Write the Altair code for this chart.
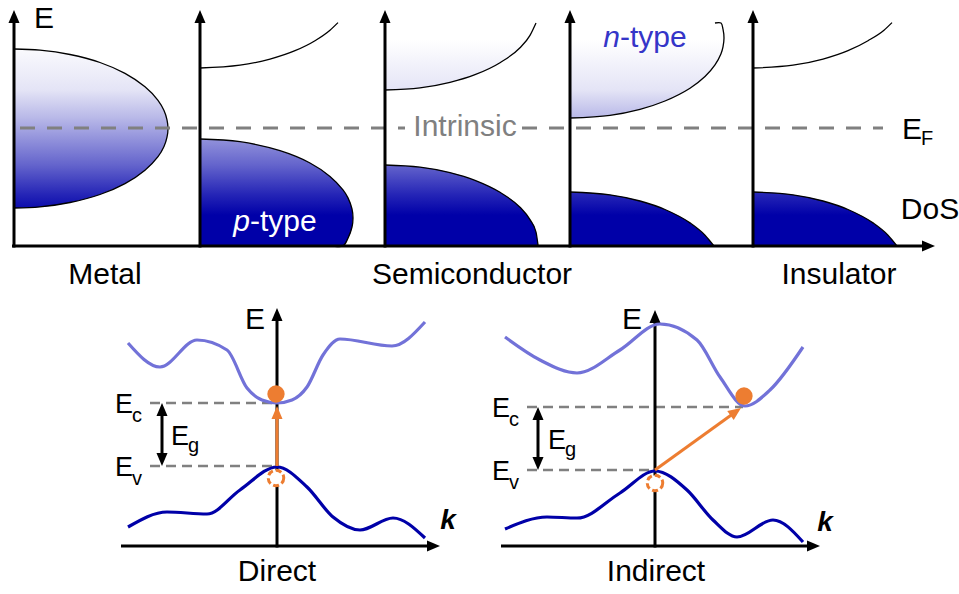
import math

import altair as alt
import pandas as pd

# ---------------------------------------------------------------
# Density-of-states sketches (top row) and band diagrams (bottom)
# All geometry lives on a 959 x 594 canvas-like coordinate system.
# ---------------------------------------------------------------

W, H = 959, 594

# ---- top row: energy axes of the five DoS panels ----
PANEL_AXES_X = [14, 200, 385, 570, 753]
DOS_BASE_Y = 246
DOS_AXIS_TIP_Y = 10
DOS_AXIS_END_X = 935
FERMI_Y = 128

# metal: half-ellipse band straddling E_F
METAL_X = [14, 40, 70, 100, 125, 145, 158, 164, 167, 168]
METAL_TOP = [49, 50.1, 54.5, 62.5, 73.4, 86.8, 100.3, 110.5, 119.8, 128.5]
METAL_BOT = [208, 206.9, 202.5, 194.5, 183.6, 170.2, 156.7, 146.5, 137.2, 128.5]

# p-type: empty conduction band edge, valence band
PTYPE_CB_X = [200, 240, 270, 295, 315, 330, 338]
PTYPE_CB_Y = [68, 65.2, 59.1, 50.7, 40.7, 30.2, 22.6]
PTYPE_VB_X = [200, 240, 280, 310, 330, 343, 348, 352, 353]
PTYPE_VB_TOP = [139, 141.7, 150.7, 163, 176.4, 189.9, 197.9, 209, 218]
PTYPE_VB_BOT = [246, 246, 246, 246, 246, 246, 238.1, 227, 218]

# intrinsic semiconductor
INTR_CB_X = [385, 420, 450, 475, 500, 520, 530, 536]
INTR_CB_Y = [90, 87.9, 82.4, 74.7, 62.7, 47.7, 35.4, 23]
INTR_VB_X = [385, 420, 450, 475, 500, 520, 530, 536, 538]
INTR_VB_TOP = [165, 167.1, 172.6, 180.3, 192.3, 207.3, 219.6, 232.1, 245]

# n-type
NTYPE_CB_X = [570, 610, 640, 665, 690, 705, 715, 721, 723, 724]
NTYPE_CB_LOW = [118, 115.3, 109.3, 101, 88.2, 76.5, 64.9, 53.7, 46.8, 38]
NTYPE_CB_UP = [23, 23, 23, 23, 23, 23, 23, 23, 29.2, 38]
NTYPE_VB_X = [570, 610, 640, 665, 690, 705, 714]
NTYPE_VB_TOP = [192, 194.8, 201, 209.5, 222.9, 235.2, 246]

# insulator
INS_CB_X = [753, 793, 823, 848, 868, 884, 892]
INS_CB_Y = [68, 65.2, 59.1, 50.7, 40.7, 30.2, 22.6]
INS_VB_X = [753, 793, 823, 848, 873, 888, 897]
INS_VB_TOP = [192, 194.8, 201, 209.5, 222.9, 235.2, 246]

# ---- bottom row: E(k) band structures ----
K_AXIS_Y = 546
DIRECT_AXIS = dict(x0=121, x1=440, kx=277, tip=308)
INDIRECT_AXIS = dict(x0=501, x1=820, kx=655, tip=310)

DIRECT_CB_X = [128, 160, 197, 227, 247, 262, 277, 292, 307, 323, 340, 392, 425]
DIRECT_CB_Y = [343, 367, 340, 350, 388, 400, 403, 400, 387, 355, 339, 346, 322]
DIRECT_VB_X = [128, 167, 207, 240, 277, 307, 333, 360, 393, 425]
DIRECT_VB_Y = [527, 512, 514, 490, 467, 487, 517, 530, 518, 538]

INDIRECT_CB_X = [505, 540, 577, 620, 660, 697, 720, 745, 770, 803]
INDIRECT_CB_Y = [337, 360, 373, 350, 324, 340, 377, 406, 390, 347]
INDIRECT_VB_X = [505, 547, 577, 620, 655, 687, 713, 737, 773, 803]
INDIRECT_VB_Y = [529, 517, 518, 493, 471, 490, 520, 537, 520, 542]

# band edges (E_c, E_v) and where their guide lines start/stop
DIRECT_EC, DIRECT_EV = 403, 466
INDIRECT_EC, INDIRECT_EV = 407, 470
DIRECT_CBM_X, INDIRECT_CBM_X = 277, 743
GUIDE_START = [150, 527]
GAP_ARROW_X = [162, 538]

# electron (filled) and hole (dashed) positions
ELECTRONS = [(276, 394), (744, 396)]
HOLES = [(276, 478), (655, 483)]

# ---------------------------------------------------------------
FONT = "Liberation Sans"
BLACK = "#000000"
GREY = "#808080"
DARK_BLUE = "#0000a8"
LIGHT_BLUE = "#7272d8"
ORANGE = "#ed7d31"

XS = alt.Scale(domain=[0, W], nice=False, zero=False)
YS = alt.Scale(domain=[0, H], nice=False, zero=False, reverse=True)


def X(f="x"):
    return alt.X(f"{f}:Q", scale=XS, axis=None)


def Y(f="y"):
    return alt.Y(f"{f}:Q", scale=YS, axis=None)


# vertical shading used by every filled band (darker deeper in energy)
SHADE_Y = [40, 90, 118, 128, 165, 195, 215]
SHADE_C = ["#ffffff", "#e4e4f6", "#b8b8e8", "#a6a6e2", "#6464cc", "#2424b6", "#0000a8"]


def _hex(c):
    return tuple(int(c[i:i + 2], 16) for i in (1, 3, 5))


def shade(y):
    if y <= SHADE_Y[0]:
        return SHADE_C[0]
    if y >= SHADE_Y[-1]:
        return SHADE_C[-1]
    for (y0, c0), (y1, c1) in zip(zip(SHADE_Y, SHADE_C), zip(SHADE_Y[1:], SHADE_C[1:])):
        if y0 <= y <= y1:
            t = (y - y0) / (y1 - y0)
            a, b = _hex(c0), _hex(c1)
            return "#%02x%02x%02x" % tuple(round(p + (q - p) * t) for p, q in zip(a, b))


def gradient(ymin, ymax):
    stops = [alt.GradientStop(offset=0, color=shade(ymin))]
    for gy in SHADE_Y:
        if ymin < gy < ymax:
            stops.append(alt.GradientStop(offset=(gy - ymin) / (ymax - ymin), color=shade(gy)))
    stops.append(alt.GradientStop(offset=1, color=shade(ymax)))
    return alt.Gradient(gradient="linear", stops=stops, x1=0, x2=0, y1=0, y2=1)


def band(xs, top, bottom):
    df = pd.DataFrame({"x": xs, "y": top, "y2": bottom})
    g = gradient(min(top + bottom), max(top + bottom))
    return alt.Chart(df).mark_area(interpolate="monotone", orient="vertical", color=g).encode(
        x=X(), y=Y(), y2=alt.Y2("y2:Q"))


def curve(xs, ys, color, width, interp="monotone", dash=None, cap="butt"):
    df = pd.DataFrame({"x": xs, "y": ys, "i": list(range(len(xs)))})
    kw = dict(color=color, strokeWidth=width, interpolate=interp, strokeCap=cap)
    if dash:
        kw["strokeDash"] = dash
    return alt.Chart(df).mark_line(**kw).encode(x=X(), y=Y(), order="i:Q")


def hrule(x0, x1, y, color, width, dash=None):
    df = pd.DataFrame({"x": [x0], "x2": [x1], "y": [y]})
    kw = dict(color=color, strokeWidth=width)
    if dash:
        kw["strokeDash"] = dash
    return alt.Chart(df).mark_rule(**kw).encode(x=X(), x2=alt.X2("x2:Q"), y=Y())


def vrule(x, y0, y1, color, width):
    df = pd.DataFrame({"x": [x], "y": [y0], "y2": [y1]})
    return alt.Chart(df).mark_rule(color=color, strokeWidth=width).encode(
        x=X(), y=Y(), y2=alt.Y2("y2:Q"))


HEAD = "M0,-1L0.85,1L-0.85,1Z"


def arrowhead(tip_x, tip_y, angle, length, color):
    # centre the head so that its tip lands on (tip_x, tip_y)
    r = length / 2
    cx = tip_x - r * math.sin(math.radians(angle))
    cy = tip_y + r * math.cos(math.radians(angle))
    df = pd.DataFrame({"x": [cx], "y": [cy]})
    return alt.Chart(df).mark_point(shape=HEAD, filled=True, size=length * length, angle=angle,
                                    color=color, opacity=1, strokeWidth=0).encode(x=X(), y=Y())


def label(txt, x, y, size, color=BLACK, align="left", style="normal", weight="normal"):
    df = pd.DataFrame({"x": [x], "y": [y]})
    return alt.Chart(df).mark_text(text=txt, font=FONT, fontSize=size, color=color, align=align,
                                   baseline="alphabetic", fontStyle=style, fontWeight=weight).encode(
        x=X(), y=Y())


layers = []

# ---------------- top row ----------------
layers += [
    band(METAL_X, METAL_TOP, METAL_BOT),
    band(PTYPE_VB_X, PTYPE_VB_TOP, PTYPE_VB_BOT),
    band(INTR_CB_X, [23] * len(INTR_CB_X), INTR_CB_Y),
    band(INTR_VB_X, INTR_VB_TOP, [DOS_BASE_Y] * len(INTR_VB_X)),
    band(NTYPE_CB_X, NTYPE_CB_UP, NTYPE_CB_LOW),
    band(NTYPE_VB_X, NTYPE_VB_TOP, [DOS_BASE_Y] * len(NTYPE_VB_X)),
    band(INS_VB_X, INS_VB_TOP, [DOS_BASE_Y] * len(INS_VB_X)),
]

# black outlines of the band edges
outline_w = 1.3
layers += [
    curve(METAL_X + METAL_X[::-1][1:], METAL_TOP + METAL_BOT[::-1][1:], BLACK, outline_w, "catmull-rom"),
    curve(PTYPE_CB_X, PTYPE_CB_Y, BLACK, outline_w),
    curve(PTYPE_VB_X + PTYPE_VB_X[::-1][1:], PTYPE_VB_TOP + PTYPE_VB_BOT[::-1][1:], BLACK, outline_w,
          "catmull-rom"),
    curve(INTR_CB_X, INTR_CB_Y, BLACK, outline_w),
    curve(INTR_VB_X, INTR_VB_TOP, BLACK, outline_w),
    curve(NTYPE_CB_X + NTYPE_CB_X[::-1][1:4], NTYPE_CB_LOW + NTYPE_CB_UP[::-1][1:4], BLACK, outline_w,
          "catmull-rom"),
    curve(NTYPE_VB_X, NTYPE_VB_TOP, BLACK, outline_w),
    curve(INS_CB_X, INS_CB_Y, BLACK, outline_w),
    curve(INS_VB_X, INS_VB_TOP, BLACK, outline_w),
]

# Fermi level, broken around the "Intrinsic" label
layers += [
    hrule(20, 405, FERMI_Y, GREY, 3, [15, 12]),
    hrule(522, 883, FERMI_Y, GREY, 3, [15, 12]),
    label("Intrinsic", 465, 136, 30, GREY, "center"),
]

# axes
for ax in PANEL_AXES_X:
    layers.append(vrule(ax, DOS_BASE_Y + 1.5, DOS_AXIS_TIP_Y + 8, BLACK, 3))
    layers.append(arrowhead(ax, DOS_AXIS_TIP_Y, 0, 13, BLACK))
layers.append(hrule(12, DOS_AXIS_END_X - 8, DOS_BASE_Y, BLACK, 3))
layers.append(arrowhead(DOS_AXIS_END_X, DOS_BASE_Y, 90, 13, BLACK))

# top-row text
layers += [
    label("E", 34, 28, 30),
    label("E", 902, 139, 30),
    label("F", 921, 145, 20),
    label("DoS", 930, 219, 30, align="center"),
    label("Metal", 105, 284, 30, align="center"),
    label("Semiconductor", 472, 284, 30, align="center"),
    label("Insulator", 839, 284, 30, align="center"),
    label("p", 250, 231, 30, "#ffffff", "right", "italic"),
    label("-type", 250, 231, 30, "#ffffff"),
    label("n", 620, 47, 30, "#3535c8", "right", "italic"),
    label("-type", 620, 47, 30, "#3535c8"),
]

# ---------------- bottom row ----------------
for i, (ax, ec, ev, cbm) in enumerate([
        (DIRECT_AXIS, DIRECT_EC, DIRECT_EV, DIRECT_CBM_X),
        (INDIRECT_AXIS, INDIRECT_EC, INDIRECT_EV, INDIRECT_CBM_X)]):
    x0 = GUIDE_START[i]
    layers += [
        hrule(x0, cbm, ec, GREY, 2.5, [10, 6]),
        hrule(x0, ax["kx"], ev, GREY, 2.5, [10, 6]),
        hrule(ax["x0"], ax["x1"] - 8, K_AXIS_Y, BLACK, 3),
        arrowhead(ax["x1"], K_AXIS_Y, 90, 13, BLACK),
        vrule(ax["kx"], K_AXIS_Y + 1.5, ax["tip"] + 8, BLACK, 3),
        arrowhead(ax["kx"], ax["tip"], 0, 13, BLACK),
        # band-gap double arrow
        vrule(GAP_ARROW_X[i], ec + 9, ev - 9, BLACK, 3),
        arrowhead(GAP_ARROW_X[i], ec, 0, 13, BLACK),
        arrowhead(GAP_ARROW_X[i], ev, 180, 13, BLACK),
    ]

layers += [
    curve(DIRECT_CB_X, DIRECT_CB_Y, LIGHT_BLUE, 3.2),
    curve(DIRECT_VB_X, DIRECT_VB_Y, DARK_BLUE, 3.2),
    curve(INDIRECT_CB_X, INDIRECT_CB_Y, LIGHT_BLUE, 3.2),
    curve(INDIRECT_VB_X, INDIRECT_VB_Y, DARK_BLUE, 3.2),
]

# optical transitions
ix, iy = INDIRECT_AXIS["kx"], INDIRECT_EV
tx, ty = 741, 408
i_ang = math.degrees(math.atan2(tx - ix, iy - ty))
layers += [
    curve([DIRECT_AXIS["kx"], DIRECT_AXIS["kx"]], [DIRECT_EV, DIRECT_EC + 14], ORANGE, 3),
    arrowhead(DIRECT_AXIS["kx"], DIRECT_EC + 3, 0, 13, ORANGE),
    curve([ix, tx - 9 * math.sin(math.radians(i_ang))], [iy, ty + 9 * math.cos(math.radians(i_ang))],
          ORANGE, 3),
    arrowhead(tx, ty, i_ang, 13, ORANGE),
]

el = pd.DataFrame({"x": [p[0] for p in ELECTRONS], "y": [p[1] for p in ELECTRONS]})
ho = pd.DataFrame({"x": [p[0] for p in HOLES], "y": [p[1] for p in HOLES]})
layers += [
    alt.Chart(el).mark_point(shape="circle", filled=True, size=300, color=ORANGE, opacity=1).encode(
        x=X(), y=Y()),
    alt.Chart(ho).mark_point(shape="circle", filled=True, size=240, fill="#ffffff", stroke=ORANGE,
                             strokeWidth=3, strokeDash=[6, 3], opacity=1, fillOpacity=1).encode(
        x=X(), y=Y()),
]

# bottom-row text
for i, dx, dy in [(0, 0, 0), (1, 377, 4)]:
    layers += [
        label("E", 115 + dx, 413 + dy, 27),
        label("c", 132 + dx, 422 + dy, 20),
        label("E", 115 + dx, 476 + dy, 27),
        label("v", 132 + dx, 485 + dy, 20),
        label("E", 171 + dx, 445 + dy, 27),
        label("g", 188 + dx, 452 + dy, 20),
    ]
layers += [
    label("E", 255, 329, 30, align="center"),
    label("E", 632, 329, 30, align="center"),
    label("k", 448, 529, 28, align="center", style="italic", weight="bold"),
    label("k", 825, 531, 28, align="center", style="italic", weight="bold"),
    label("Direct", 277, 581, 30, align="center"),
    label("Indirect", 656, 581, 30, align="center"),
]

chart = alt.layer(*layers).properties(
    width=W, height=H, padding=0, autosize="none", background="#ffffff"
).configure_view(stroke=None)

chart.save("out.html", embed_options={"renderer": "svg", "actions": False})
